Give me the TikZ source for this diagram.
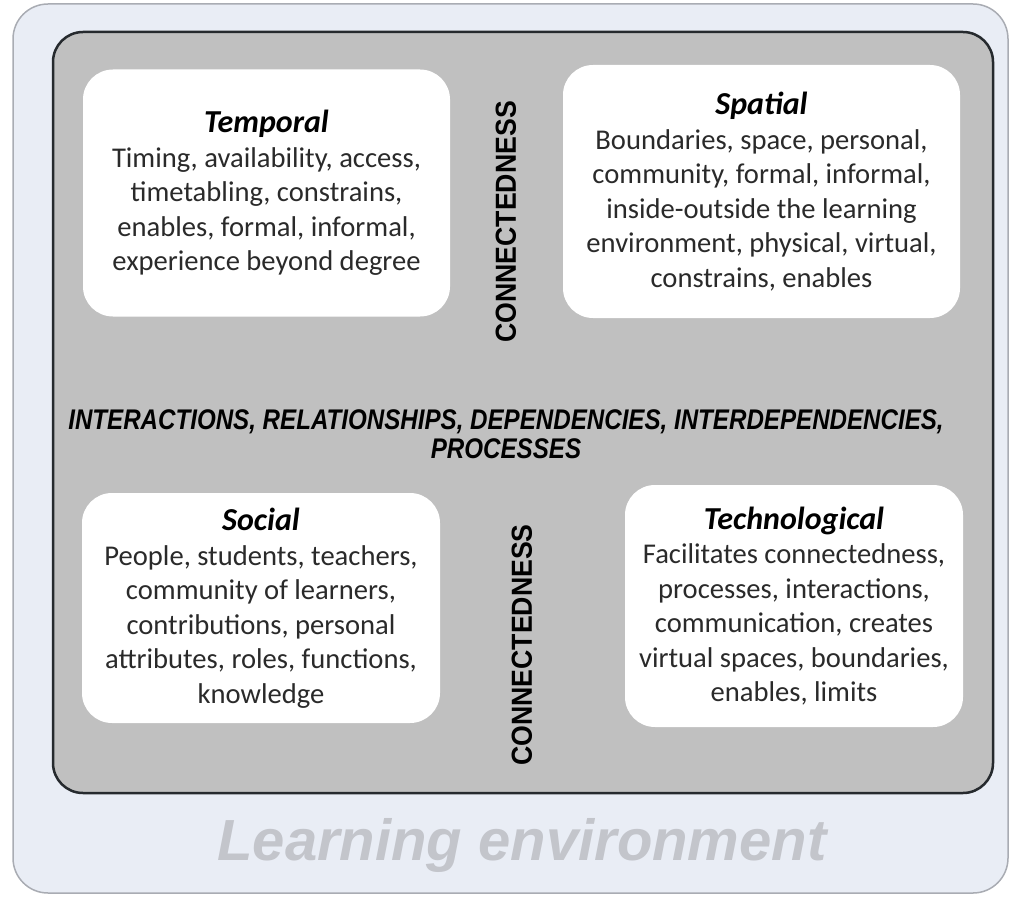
\documentclass[tikz,border=0pt]{standalone}
\usepackage{fontspec}
\setmainfont{Carlito}
\newfontfamily\headfont{Liberation Sans}
\newfontfamily\narrowfont[FakeStretch=0.85]{Liberation Sans}
\newfontfamily\linkfont[FakeStretch=0.92]{Liberation Sans}
\usepackage{tikz}

\definecolor{envfill}{HTML}{E9EDF5}
\definecolor{envline}{HTML}{A9ACB3}
\definecolor{areafill}{HTML}{C0C0C0}
\definecolor{arealine}{HTML}{262A2E}
\definecolor{bodytext}{HTML}{2A2A2A}
\definecolor{envtext}{HTML}{C3C5CB}

\begin{document}
\begin{tikzpicture}[x=1pt,y=-1pt,
    dimbox/.style={fill=white, rounded corners=30pt, align=center, inner sep=0pt,
      text=bodytext, font=\fontsize{28.6}{34.5}\selectfont},
    linktext/.style={rotate=90, font=\linkfont\bfseries\fontsize{29}{29}\selectfont}]
    \useasboundingbox (0,0) rectangle (1011,896);
    \clip (0,0) rectangle (1011,896);
    \draw[envline, fill=envfill, line width=1.5pt, rounded corners=35pt] (13,4) rectangle (1008,893);
    \draw[arealine, fill=areafill, line width=2.5pt, rounded corners=30pt] (53,32) rectangle (993,793);

    \node[dimbox, minimum width=367pt, minimum height=247pt] (temporal) at (266.5,193)
      {{\color{black}\fontsize{32}{35}\selectfont\bfseries\itshape Temporal}\\
       Timing, availability, access,\\ timetabling, constrains,\\
       enables, formal, informal,\\ experience beyond degree};
    \node[dimbox, minimum width=397pt, minimum height=253pt] (spatial) at (761.5,191.5)
      {{\color{black}\fontsize{32}{35}\selectfont\bfseries\itshape Spatial}\\
       Boundaries, space, personal,\\ community, formal, informal,\\
       inside-outside the learning\\ environment, physical, virtual,\\ constrains, enables};
    \node[dimbox, minimum width=358pt, minimum height=230pt] (social) at (261,608)
      {{\color{black}\fontsize{32}{35}\selectfont\bfseries\itshape Social}\\
       People, students, teachers,\\ community of learners,\\
       contributions, personal\\ attributes, roles, functions,\\ knowledge};
    \node[dimbox, minimum width=338pt, minimum height=242pt] (techno) at (794,606)
      {{\color{black}\fontsize{32}{35}\selectfont\bfseries\itshape Technological}\\
       Facilitates connectedness,\\ processes, interactions,\\
       communication, creates\\ virtual spaces, boundaries,\\ enables, limits};

    \node[linktext] (linktop) at (506,222) {CONNECTEDNESS};
    \node[linktext] (linkbottom) at (522,645) {CONNECTEDNESS};

    \node[align=center, font=\narrowfont\bfseries\itshape\fontsize{28.4}{29.5}\selectfont] (relations) at (506,434)
      {INTERACTIONS, RELATIONSHIPS, DEPENDENCIES, INTERDEPENDENCIES,\\ PROCESSES};

    \node[text=envtext, font=\headfont\bfseries\itshape\fontsize{58}{58}\selectfont] (environment) at (522,845)
      {Learning environment};
\end{tikzpicture}
\end{document}
